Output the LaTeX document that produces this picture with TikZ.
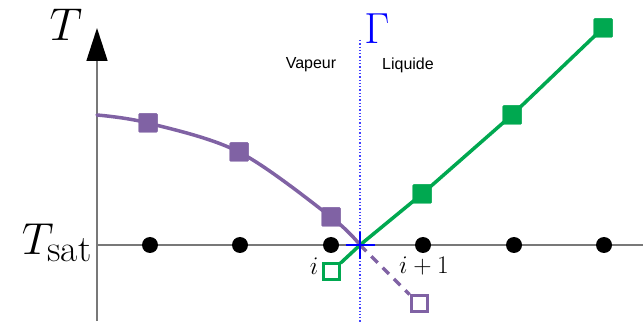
\documentclass[tikz,border=0pt]{standalone}
\usepackage{fontspec}
\newfontfamily\labelsans{Liberation Sans}
\usetikzlibrary{arrows.meta}
\definecolor{vap}{RGB}{128,98,164}
\definecolor{liq}{RGB}{0,168,80}
\definecolor{axisgray}{RGB}{120,120,120}
\begin{document}
\begin{tikzpicture}[x=1pt,y=-1pt,
  axisline/.style={draw=axisgray,line width=1.6pt},
  dotnode/.style={circle,fill=black,inner sep=0pt,minimum size=16pt},
  vsq/.style={rectangle,fill=vap,inner sep=0pt,minimum size=19pt,rounded corners=1pt},
  lsq/.style={rectangle,fill=liq,inner sep=0pt,minimum size=19pt,rounded corners=1pt},
  vopen/.style={rectangle,draw=vap,line width=3pt,fill=white,inner sep=0pt,minimum size=16pt},
  lopen/.style={rectangle,draw=liq,line width=3pt,fill=white,inner sep=0pt,minimum size=16pt},
  vline/.style={draw=vap,line width=3.5pt},
  lline/.style={draw=liq,line width=3.5pt},
  bigmath/.style={inner sep=0pt,font=\Huge,scale=#1},
  phaselabel/.style={font=\labelsans\fontsize{16}{18}\selectfont,inner sep=0pt}
]
\useasboundingbox (0,0) rectangle (643,323);
% axes
\coordinate (ybot) at (97,321);
\coordinate (ytop) at (97,28);
\coordinate (xleft) at (97,245);
\coordinate (xright) at (643,245);
\draw[axisline,-{Triangle[length=33pt,width=21pt,color=black]}] (ybot) -- (ytop);
\draw[axisline] (xleft) -- (xright);
\node[bigmath=1.85] (Tlab) at (66,25) {$T$};
\node[bigmath=1.8] (Tsat) at (57,243) {$T_{\mathrm{sat}}$};
% interface
\coordinate (gtop) at (360,40);
\coordinate (gbot) at (360,322);
\draw[blue!75,line width=1.3pt,dotted] (gtop) -- (gbot);
\node[bigmath=1.75,text=blue] (Gamma) at (377,29) {$\Gamma$};
\node[phaselabel] (vap) at (311,65) {Vapeur};
\node[phaselabel] (liq) at (408,65) {Liquide};
% grid points
\foreach \n/\x in {1/150,2/240,3/331,4/423,5/514,6/604}
  \node[dotnode] (d\n) at (\x,245) {};
\coordinate (I) at (360,245);
% vapour curve
\coordinate (v0) at (97,115);
\node[vsq] (v1) at (148,123) {};
\node[vsq] (v2) at (239,152) {};
\node[vsq] (v3) at (331,217) {};
\node[vopen] (vg) at (419,304) {};
\draw[vline,line cap=round] plot[smooth,tension=0.55] coordinates {(v0) (v1.center) (v2.center) (v3.center) (I)};
\draw[vap,line width=3.5pt,dash pattern=on 9pt off 7pt] (I) -- (vg);
\node[vsq] at (v1) {};
\node[vsq] at (v2) {};
\node[vsq] at (v3) {};
% liquid line
\node[lsq] (l1) at (422,194) {};
\node[lsq] (l2) at (512,115) {};
\node[lsq] (l3) at (603,28) {};
\node[lopen] (lg) at (331,272) {};
\draw[lline] (I) -- (l1.center) -- (l2.center) -- (l3.center);
\draw[lline] (I) -- (lg);
\node[lsq] at (l1) {};
\node[lsq] at (l2) {};
\node[lsq] at (l3) {};
% interface cross
\coordinate (cl) at (346,245);
\coordinate (cr) at (375,245);
\coordinate (ct) at (360,232);
\coordinate (cb) at (360,259);
\draw[blue,line width=2.5pt] (cl) -- (cr);
\draw[blue,line width=2.5pt] (ct) -- (cb);
% index labels
\node[bigmath=1.02] (ilab) at (314,266) {$i$};
\node[bigmath=1.02] (iplab) at (424,266) {$i+1$};
\end{tikzpicture}
\end{document}
